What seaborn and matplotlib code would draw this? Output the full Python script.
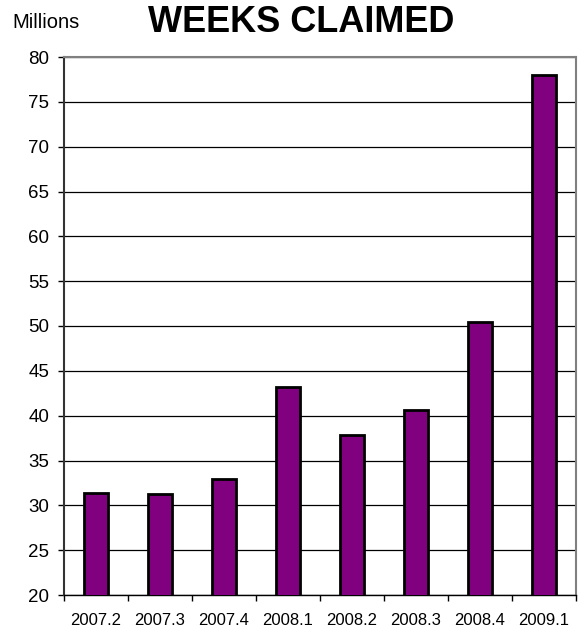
import matplotlib
matplotlib.use("Agg")
import matplotlib.pyplot as plt
import numpy as np
import pandas as pd
import seaborn as sns

quarters = ["2007.2", "2007.3", "2007.4", "2008.1", "2008.2", "2008.3", "2008.4", "2009.1"]
weeks_claimed = [31.4, 31.3, 32.9, 43.2, 37.8, 40.6, 50.5, 78.0]
y_ticks = list(range(20, 81, 5))

sns.set_style("white")
plt.rcParams["font.family"] = ["Liberation Sans", "DejaVu Sans"]
plt.rcParams["text.color"] = "black"
plt.rcParams["xtick.color"] = "black"
plt.rcParams["ytick.color"] = "black"

df = pd.DataFrame({"quarter": quarters, "weeks": weeks_claimed})

fig = plt.figure(figsize=(5.82, 6.34), dpi=100)
ax = fig.add_axes([64 / 582, 1 - 595 / 634, (576 - 64) / 582, (595 - 57) / 634])

sns.barplot(data=df, x="quarter", y="weeks", color="#800080", saturation=1,
            width=0.38, edgecolor="black", linewidth=2, ax=ax, zorder=3)

ax.set_ylim(20, 80)
ax.set_yticks(y_ticks)
ax.set_yticklabels([str(t) for t in y_ticks], fontsize=13.5)
ax.yaxis.grid(True, color="black", linewidth=0.9)
ax.set_axisbelow(True)
ax.set_xlim(-0.5, len(quarters) - 0.5)
ax.set_xticks(np.arange(len(quarters)))
ax.set_xticklabels(quarters, fontsize=12)
ax.set_xticks(np.arange(len(quarters) + 1) - 0.5, minor=True)
ax.tick_params(axis="x", which="major", bottom=True, length=0, pad=13)
ax.tick_params(axis="x", which="minor", bottom=True, length=4.5, width=1, color="black", direction="out")
ax.tick_params(axis="y", left=True, length=4.5, width=1, color="black", direction="out", pad=6)
ax.set_xlabel("")
ax.set_ylabel("")

for side in ["top", "right"]:
    ax.spines[side].set_color("#808080")
    ax.spines[side].set_linewidth(1.5)
ax.spines["left"].set_color("#333333")
ax.spines["left"].set_linewidth(1.5)
ax.spines["bottom"].set_color("black")
ax.spines["bottom"].set_linewidth(1)

fig.text(301 / 582, 1 - 22 / 634, "WEEKS CLAIMED", fontsize=26, fontweight="bold",
         ha="center", va="center")
fig.text(12 / 582, 1 - 22 / 634, "Millions", fontsize=14.5, ha="left", va="center")

fig.savefig("out.png", dpi=100)
